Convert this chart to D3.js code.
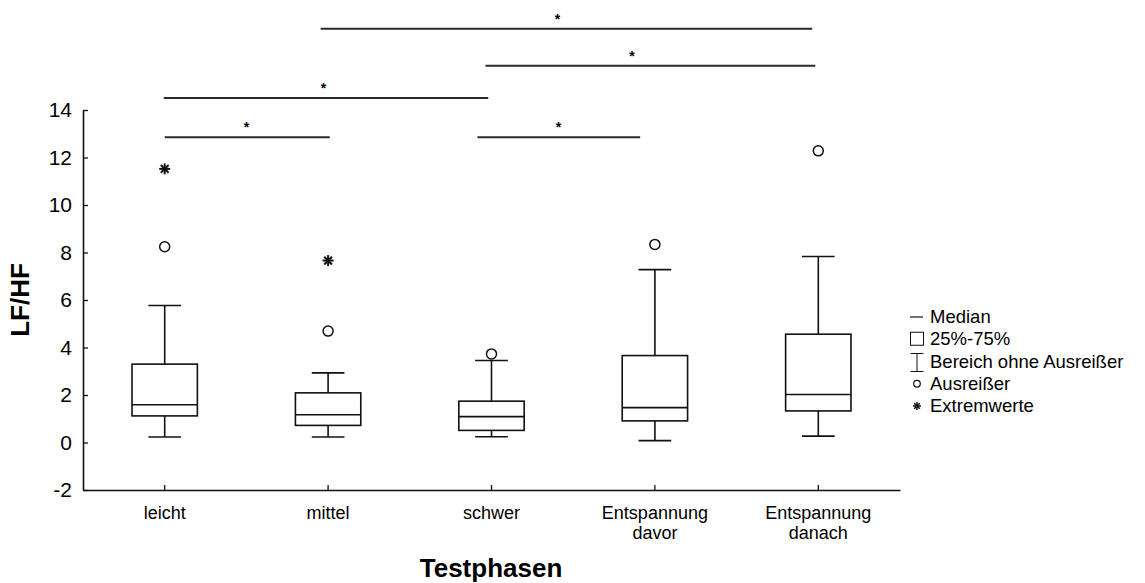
<!DOCTYPE html>
<html>
<head>
<meta charset="utf-8">
<script src="https://cdn.jsdelivr.net/npm/d3@7"></script>
<style>
  html, body { margin: 0; padding: 0; background: #fff; }
  svg { display: block; font-family: "Liberation Sans", Arial, sans-serif; }
</style>
</head>
<body>
<svg id="chart" width="1145" height="583"></svg>
<script>
// ---------------- data ----------------
const categories = ["leicht", "mittel", "schwer", "Entspannung davor", "Entspannung danach"];
const categoryLabels = [["leicht"], ["mittel"], ["schwer"], ["Entspannung", "davor"], ["Entspannung", "danach"]];
const whiskerLow  = [0.23, 0.23, 0.24, 0.08, 0.27];
const q1          = [1.12, 0.72, 0.51, 0.91, 1.33];
const medians     = [1.59, 1.17, 1.09, 1.47, 2.02];
const q3          = [3.30, 2.09, 1.74, 3.66, 4.56];
const whiskerHigh = [5.77, 2.93, 3.45, 7.28, 7.83];
const outliers    = [[8.24], [4.69], [3.73], [8.34], [12.28]];
const extremes    = [[11.52], [7.66], [], [], []];
const yTicks = [-2, 0, 2, 4, 6, 8, 10, 12, 14];

// significance brackets (positions in category-index units, level in LF/HF units)
const sigFrom  = [0.954, 1.963, -0.006, 0.0, 1.914];
const sigTo    = [3.963, 3.982, 1.98, 1.01, 2.91];
const sigStar  = [2.404, 2.86, 0.972, 0.5, 2.41];
const sigLevel = [17.42, 15.86, 14.51, 12.85, 12.85];

const legendItems = ["Median", "25%-75%", "Bereich ohne Ausreißer", "Ausreißer", "Extremwerte"];

// ---------------- chart ----------------
const svg = d3.select("#chart");
const ink = "#111";

const x = d3.scaleBand().domain(categories).range([83, 900]).paddingInner(0).paddingOuter(0);
const y = d3.scaleLinear().domain([-2, 14]).range([490, 110]);
const cx = c => x(c) + x.bandwidth() / 2;
const xi = d3.scaleLinear().domain([0, categories.length - 1])
  .range([cx(categories[0]), cx(categories[categories.length - 1])]);

// y axis
const yAxis = svg.append("g").attr("transform", "translate(83,0)")
  .call(d3.axisLeft(y).tickValues(yTicks).tickSizeInner(-5).tickSizeOuter(0).tickPadding(11)
    .tickFormat(d => d < 0 ? "-" + Math.abs(d) : d));
yAxis.select(".domain").attr("stroke", ink).attr("stroke-width", 1.6);
yAxis.selectAll(".tick line").attr("stroke", ink).attr("stroke-width", 1.3);
yAxis.selectAll(".tick text").attr("fill", "#000").attr("font-size", 21)
  .attr("font-family", "Liberation Sans, Arial, sans-serif");

// x axis
const xAxis = svg.append("g").attr("transform", "translate(0,490)")
  .call(d3.axisBottom(x).tickSizeInner(-5).tickSizeOuter(0));
xAxis.select(".domain").attr("stroke", ink).attr("stroke-width", 1.6);
xAxis.selectAll(".tick line").attr("stroke", ink).attr("stroke-width", 1.3);
xAxis.selectAll(".tick text").remove();
xAxis.selectAll(".tick").each(function(d, i) {
  const t = d3.select(this).append("text")
    .attr("fill", "#000").attr("font-size", 18).attr("text-anchor", "middle")
    .attr("font-family", "Liberation Sans, Arial, sans-serif");
  categoryLabels[i].forEach((line, j) => {
    t.append("tspan").attr("x", 0).attr("y", 29 + j * 20).text(line);
  });
});

// axis titles
svg.append("text").attr("transform", "translate(29,300) rotate(-90)")
  .attr("text-anchor", "middle").attr("font-size", 26).attr("font-weight", "bold")
  .text("LF/HF");
svg.append("text").attr("x", 491).attr("y", 577)
  .attr("text-anchor", "middle").attr("font-size", 26).attr("font-weight", "bold")
  .text("Testphasen");

// boxes
const boxW = x.bandwidth() * 0.4;
const capW = x.bandwidth() * 0.2;
const boxes = svg.append("g").attr("stroke", ink).attr("stroke-width", 1.6).attr("fill", "none");
categories.forEach((c, i) => {
  const g = boxes.append("g");
  const xc = cx(c);
  // whiskers
  g.append("line").attr("x1", xc).attr("x2", xc).attr("y1", y(q3[i])).attr("y2", y(whiskerHigh[i]));
  g.append("line").attr("x1", xc).attr("x2", xc).attr("y1", y(q1[i])).attr("y2", y(whiskerLow[i]));
  g.append("line").attr("x1", xc - capW / 2).attr("x2", xc + capW / 2).attr("y1", y(whiskerHigh[i])).attr("y2", y(whiskerHigh[i]));
  g.append("line").attr("x1", xc - capW / 2).attr("x2", xc + capW / 2).attr("y1", y(whiskerLow[i])).attr("y2", y(whiskerLow[i]));
  // box
  g.append("rect").attr("x", xc - boxW / 2).attr("width", boxW)
    .attr("y", y(q3[i])).attr("height", y(q1[i]) - y(q3[i])).attr("fill", "#fff");
  g.append("line").attr("x1", xc - boxW / 2).attr("x2", xc + boxW / 2).attr("y1", y(medians[i])).attr("y2", y(medians[i]));
  // outliers
  outliers[i].forEach(v => {
    g.append("circle").attr("cx", xc).attr("cy", y(v)).attr("r", 5).attr("stroke-width", 1.5).attr("fill", "#fff");
  });
  // extremes
  extremes[i].forEach(v => drawStar(g, xc, y(v), 5.5, 2));
});

function drawStar(g, px, py, r, sw) {
  [0, 45, 90, 135].forEach(a => {
    const rad = a * Math.PI / 180;
    g.append("line")
      .attr("x1", px - r * Math.cos(rad)).attr("y1", py - r * Math.sin(rad))
      .attr("x2", px + r * Math.cos(rad)).attr("y2", py + r * Math.sin(rad))
      .attr("stroke", ink).attr("stroke-width", sw);
  });
}

// significance brackets
const sig = svg.append("g");
sigFrom.forEach((f, i) => {
  sig.append("line").attr("x1", xi(f)).attr("x2", xi(sigTo[i]))
    .attr("y1", y(sigLevel[i])).attr("y2", y(sigLevel[i]))
    .attr("stroke", "#2a2a2a").attr("stroke-width", 2);
  sig.append("text").attr("x", xi(sigStar[i])).attr("y", y(sigLevel[i]) - 5)
    .attr("text-anchor", "middle").attr("font-size", 14).attr("font-weight", "bold")
    .attr("fill", "#000").text("*");
});

// legend
const lg = svg.append("g").attr("transform", "translate(910,0)");
const base = i => 323 + i * 22.25;
legendItems.forEach((t, i) => {
  lg.append("text").attr("x", 20).attr("y", base(i)).attr("font-size", 18.5).attr("fill", "#000").text(t);
});
lg.append("line").attr("x1", 0).attr("x2", 13).attr("y1", base(0) - 6).attr("y2", base(0) - 6)
  .attr("stroke", ink).attr("stroke-width", 1.2);
lg.append("rect").attr("x", 0.5).attr("y", base(1) - 13).attr("width", 13).attr("height", 13)
  .attr("fill", "none").attr("stroke", ink).attr("stroke-width", 1);
lg.append("line").attr("x1", 7).attr("x2", 7).attr("y1", base(2) - 14).attr("y2", base(2) + 4)
  .attr("stroke", ink).attr("stroke-width", 1);
lg.append("line").attr("x1", 0.5).attr("x2", 13.5).attr("y1", base(2) - 14).attr("y2", base(2) - 14)
  .attr("stroke", ink).attr("stroke-width", 1);
lg.append("line").attr("x1", 0.5).attr("x2", 13.5).attr("y1", base(2) + 4).attr("y2", base(2) + 4)
  .attr("stroke", ink).attr("stroke-width", 1);
lg.append("circle").attr("cx", 7).attr("cy", base(3) - 6).attr("r", 3.3)
  .attr("fill", "none").attr("stroke", ink).attr("stroke-width", 1.2);
drawStar(lg, 7, base(4) - 6, 4, 1.5);
</script>
</body>
</html>
